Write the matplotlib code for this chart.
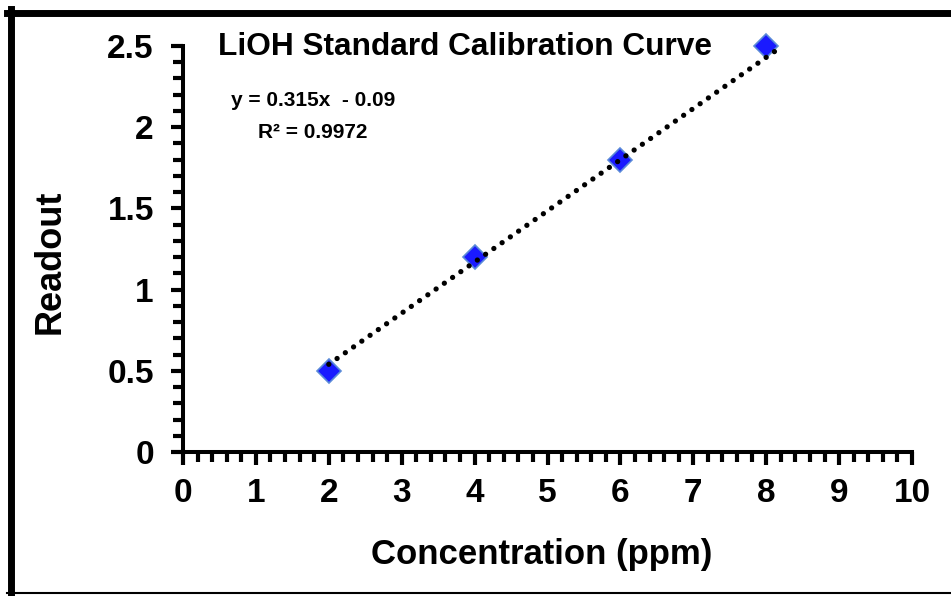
import matplotlib
matplotlib.use('Agg')
import matplotlib.pyplot as plt
from matplotlib.lines import Line2D
from matplotlib.ticker import MultipleLocator

# calibration points
conc = [2, 4, 6, 8]
readout = [0.5, 1.2, 1.8, 2.5]

# trendline as shown on the chart
slope = 0.315
intercept = -0.09
r2 = 0.9972
fit_x = [2, 8.15]

xticks = [0, 1, 2, 3, 4, 5, 6, 7, 8, 9, 10]
yticks = [0, 0.5, 1, 1.5, 2, 2.5]
ytick_labels = ['0', '0.5', '1', '1.5', '2', '2.5']

plt.rcParams['font.family'] = ['Liberation Sans', 'DejaVu Sans']
plt.rcParams['font.weight'] = 'bold'

W, H = 951, 596
fig = plt.figure(figsize=(W / 100, H / 100), dpi=100)
ax = fig.add_axes([183 / W, 1 - 452 / H, (912 - 183) / W, (452 - 46) / H])

fit_y = [slope * x + intercept for x in fit_x]
ax.plot(conc, readout, ls='none', marker='D', ms=12.5, mfc='#1a1aff',
        mec='#5a8ad8', mew=1.2, zorder=3, clip_on=False)
ax.plot(fit_x, fit_y, color='black', lw=3.8, ls=(0, (0.01, 1.9)),
        dash_capstyle='round', zorder=4, clip_on=False)

ax.set_xlim(0, 10)
ax.set_ylim(0, 2.5)
ax.set_xticks(xticks)
ax.set_yticks(yticks)
ax.set_yticklabels(ytick_labels)
ax.xaxis.set_minor_locator(MultipleLocator(0.2))
ax.yaxis.set_minor_locator(MultipleLocator(0.1))

for s in ['top', 'right']:
    ax.spines[s].set_visible(False)
for s in ['left', 'bottom']:
    ax.spines[s].set_linewidth(2.9)

ax.tick_params(axis='both', which='major', direction='out', length=9,
               width=3, labelsize=24)
ax.tick_params(axis='both', which='minor', direction='out', length=7,
               width=3)
ax.tick_params(axis='y', which='major', pad=12)
ax.tick_params(axis='x', which='major', pad=10)

ax.set_xlabel('Concentration (ppm)', fontsize=25, fontweight='bold')
ax.set_ylabel('Readout', fontsize=26, fontweight='bold')
ax.xaxis.set_label_coords(0.492, -0.212)
ax.yaxis.set_label_coords(-0.158, 0.468)

fig.text(218 / W, 1 - 47 / H, 'LiOH Standard Calibration Curve',
         fontsize=22.8, fontweight='bold', ha='left', va='center')
fig.text(313 / W, 1 - 100 / H, 'y = 0.315x  - 0.09',
         fontsize=15, fontweight='bold', ha='center', va='center')
fig.text(313 / W, 1 - 133 / H, 'R² = 0.9972',
         fontsize=15, fontweight='bold', ha='center', va='center')

# outer frame
fig.add_artist(Line2D([7 / W, 1], [1 - 12.5 / H, 1 - 12.5 / H], color='black',
                      lw=5, transform=fig.transFigure))
fig.add_artist(Line2D([10.5 / W, 10.5 / W], [1 - 9 / H, 1 - 594 / H],
                      color='black', lw=5, transform=fig.transFigure))
fig.add_artist(Line2D([7 / W, 1], [1 - 593 / H, 1 - 593 / H], color='black',
                      lw=1.5, transform=fig.transFigure))

fig.savefig('out.png', dpi=100)
